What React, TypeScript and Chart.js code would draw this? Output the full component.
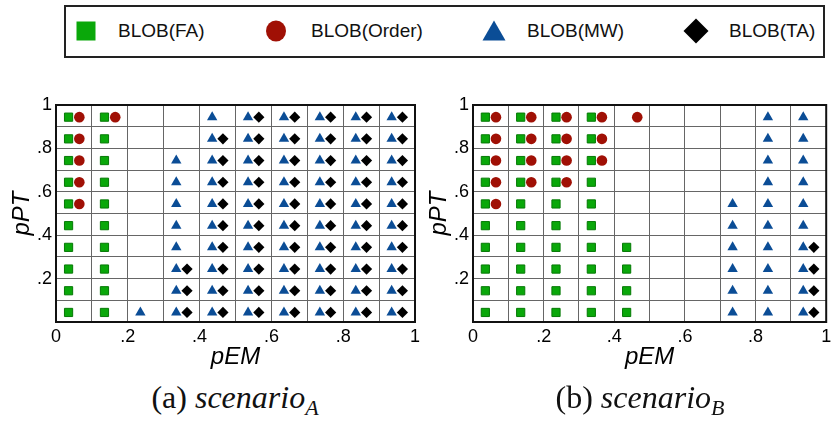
import React, { useEffect, useRef } from "react";
import { Chart, registerables } from "chart.js";

Chart.register(...registerables);

// pEM positions (within each 0.1 cell) of the markers
const pEM_FA_MW = [0.035, 0.135, 0.235, 0.335, 0.435, 0.535, 0.635, 0.735, 0.835, 0.935];
const pEM_Order_TA = [0.065, 0.165, 0.265, 0.365, 0.465, 0.565, 0.665, 0.765, 0.865, 0.965];

// pPT rows
const ALL = [0.044, 0.144, 0.244, 0.344, 0.444, 0.544, 0.644, 0.744, 0.844, 0.944];

// scenario A: per pEM column, pPT values where the marker is present
const faA = [ALL, ALL, [], [], [], [], [], [], [], []];
const orderA = [[0.544, 0.644, 0.744, 0.844, 0.944], [0.944], [], [], [], [], [], [], [], []];
const mwA = [[], [], [0.044], [0.044, 0.144, 0.244, 0.344, 0.444, 0.544, 0.644, 0.744], ALL, ALL, ALL, ALL, ALL, ALL];
const taA = [[], [], [], [0.044, 0.144, 0.244], [0.044, 0.144, 0.244, 0.344, 0.444, 0.544, 0.644, 0.744, 0.844], ALL, ALL, ALL, ALL, ALL];

// scenario B
const faB = [ALL, ALL, ALL, ALL, [0.044, 0.144, 0.244, 0.344], [], [], [], [], []];
const orderB = [[0.544, 0.644, 0.744, 0.844, 0.944], [0.644, 0.744, 0.844, 0.944], [0.644, 0.744, 0.844, 0.944], [0.744, 0.844, 0.944], [0.944], [], [], [], [], []];
const mwB = [[], [], [], [], [], [], [], [0.044, 0.144, 0.244, 0.344, 0.444, 0.544], ALL, ALL];
const taB = [[], [], [], [], [], [], [], [], [], [0.044, 0.144, 0.244, 0.344]];

const xTicks = [0, 0.2, 0.4, 0.6, 0.8, 1];
const yTicks = [0.2, 0.4, 0.6, 0.8, 1];

const GREEN = "#0aa80a";
const GREEN_EDGE = "#067a06";
const RED = "#a01005";
const BLUE = "#0b4d96";
const BLACK = "#000000";

const SANS = "'Liberation Sans', Arial, Helvetica, sans-serif";
const SERIF = "'Liberation Serif', 'Times New Roman', serif";

function toPoints(xs: number[], cols: number[][]) {
  const pts: { x: number; y: number }[] = [];
  cols.forEach((ys, i) => ys.forEach((y) => pts.push({ x: xs[i], y })));
  return pts;
}

function fmt(v: number, list: number[]) {
  const r = Math.round(v * 10) / 10;
  if (!list.some((t) => Math.abs(t - r) < 1e-6)) return "";
  if (r === 0) return "0";
  if (r === 1) return "1";
  return "." + Math.round(r * 10);
}

const framePlugin = {
  id: "frame",
  afterDraw(chart: any) {
    const { ctx, chartArea } = chart;
    ctx.save();
    ctx.strokeStyle = "#111";
    ctx.lineWidth = 2;
    ctx.strokeRect(chartArea.left, chartArea.top, chartArea.right - chartArea.left, chartArea.bottom - chartArea.top);
    ctx.restore();
  },
};

function Panel(props: {
  fa: number[][]; order: number[][]; mw: number[][]; ta: number[][];
  left: number; width: number; padRight: number;
}) {
  const ref = useRef<HTMLCanvasElement>(null);
  useEffect(() => {
    const chart = new Chart(ref.current!, {
      type: "scatter",
      data: {
        datasets: [
          { label: "BLOB(FA)", data: toPoints(pEM_FA_MW, props.fa), pointStyle: "rect", pointRadius: 5.8, backgroundColor: GREEN, borderColor: GREEN_EDGE, borderWidth: 1 },
          { label: "BLOB(Order)", data: toPoints(pEM_Order_TA, props.order), pointStyle: "circle", pointRadius: 5.3, backgroundColor: RED, borderColor: RED, borderWidth: 0 },
          { label: "BLOB(MW)", data: toPoints(pEM_FA_MW, props.mw), pointStyle: "triangle", pointRadius: 6, backgroundColor: BLUE, borderColor: BLUE, borderWidth: 0 },
          { label: "BLOB(TA)", data: toPoints(pEM_Order_TA, props.ta), pointStyle: "rectRot", pointRadius: 5.6, backgroundColor: BLACK, borderColor: BLACK, borderWidth: 0 },
        ],
      },
      options: {
        animation: false,
        responsive: false,
        devicePixelRatio: 1,
        events: [],
        layout: { padding: { top: 10, right: props.padRight, left: 0, bottom: 0 } },
        plugins: { legend: { display: false }, tooltip: { enabled: false } },
        scales: {
          x: {
            type: "linear", min: 0, max: 1,
            ticks: { stepSize: 0.1, autoSkip: false, maxRotation: 0, padding: 4, color: "#000", font: { family: SANS, size: 18 }, callback: (v: any) => fmt(Number(v), xTicks) },
            grid: { color: "#666", lineWidth: 1, drawTicks: false },
            border: { color: "#111", width: 2 },
            title: { display: true, text: "pEM", color: "#000", padding: { top: 0, bottom: 0 }, font: { family: SANS, size: 24, style: "italic" } },
            afterFit: (s: any) => { s.height = 50; s.paddingLeft = 0; s.paddingRight = 0; },
          },
          y: {
            type: "linear", min: 0, max: 1,
            ticks: { stepSize: 0.1, autoSkip: false, padding: 4, color: "#000", font: { family: SANS, size: 18 }, callback: (v: any) => fmt(Number(v), yTicks) },
            grid: { color: "#666", lineWidth: 1, drawTicks: false },
            border: { color: "#111", width: 2 },
            title: { display: true, text: "pPT", color: "#000", padding: { top: 8, bottom: 0 }, font: { family: SANS, size: 24, style: "italic" } },
            afterFit: (s: any) => { s.width = 56; s.paddingTop = 0; s.paddingBottom = 0; },
          },
        },
      },
      plugins: [framePlugin],
    } as any);
    return () => chart.destroy();
  }, []);
  return (
    <canvas
      ref={ref}
      width={props.width}
      height={277}
      style={{ position: "absolute", left: props.left, top: 95, width: props.width, height: 277 }}
    />
  );
}

function LegendMarker({ kind }: { kind: string }) {
  if (kind === "rect") return <svg width="26" height="26"><rect x="3.5" y="3.5" width="19" height="19" fill={GREEN} /></svg>;
  if (kind === "circle") return <svg width="26" height="26"><ellipse cx="13" cy="13" rx="10" ry="10.5" fill={RED} /></svg>;
  if (kind === "tri") return <svg width="26" height="26"><polygon points="13,2.5 24.5,22.5 1.5,22.5" fill={BLUE} /></svg>;
  return <svg width="26" height="26"><polygon points="13,0.5 25.5,13 13,25.5 0.5,13" fill={BLACK} /></svg>;
}

const legendItems = [
  { kind: "rect", label: "BLOB(FA)", mx: 72.5, tx: 118 },
  { kind: "circle", label: "BLOB(Order)", mx: 263, tx: 311 },
  { kind: "tri", label: "BLOB(MW)", mx: 481, tx: 527 },
  { kind: "diamond", label: "BLOB(TA)", mx: 683, tx: 729 },
];

const captionStyle: React.CSSProperties = {
  position: "absolute", width: 320, top: 379, textAlign: "center", fontFamily: SERIF,
  fontSize: 32, lineHeight: "36px", color: "#111", whiteSpace: "nowrap",
};

export default function App() {
  return (
    <div style={{ position: "fixed", left: 0, top: 0, width: 833, height: 425, background: "#fff", overflow: "hidden" }}>
      <div style={{ position: "absolute", left: 64, top: 5, width: 757, height: 49, border: "2px solid #222" }} />
      {legendItems.map((it) => (
        <React.Fragment key={it.label}>
          <div style={{ position: "absolute", left: it.mx, top: 18 }}><LegendMarker kind={it.kind} /></div>
          <div style={{ position: "absolute", left: it.tx, top: 19, fontFamily: SANS, fontSize: 19, lineHeight: "24px", color: "#111", whiteSpace: "nowrap" }}>{it.label}</div>
        </React.Fragment>
      ))}
      <Panel fa={faA} order={orderA} mw={mwA} ta={taA} left={0} width={425} padRight={10} />
      <Panel fa={faB} order={orderB} mw={mwB} ta={taB} left={417} width={416} padRight={2} />
      <div style={{ ...captionStyle, left: 75 }}>
        (a) <i>scenario</i><sub style={{ fontSize: 22, verticalAlign: "-7px" }}><i>A</i></sub>
      </div>
      <div style={{ ...captionStyle, left: 480 }}>
        (b) <i>scenario</i><sub style={{ fontSize: 22, verticalAlign: "-7px" }}><i>B</i></sub>
      </div>
    </div>
  );
}
